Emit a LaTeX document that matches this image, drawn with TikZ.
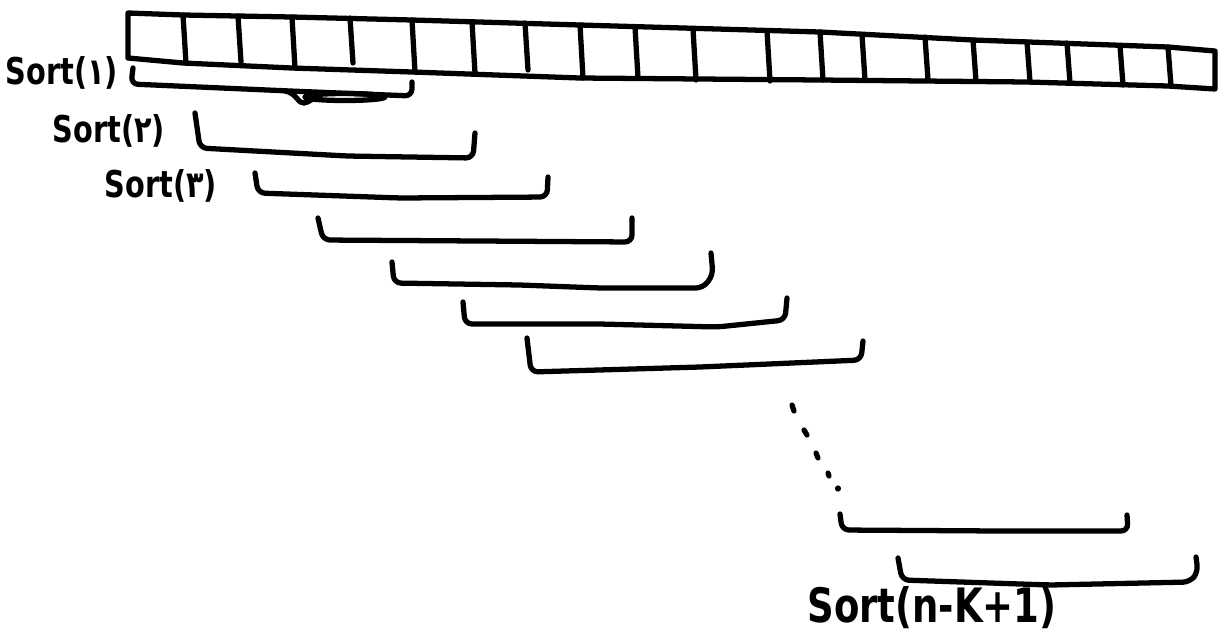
\documentclass[tikz,border=0pt]{standalone}
\usepackage{fontspec}
\usepackage{tikz}
\usetikzlibrary{positioning}
\newfontfamily\handfont[FakeStretch=0.78]{DejaVu Sans Bold}

\begin{document}
\begin{tikzpicture}[x=0.02cm,y=-0.02cm,
  ink/.style={line width=3pt,line cap=round,line join=round},
  brk/.style={ink,rounded corners=4pt},
  lbl/.style={font=\handfont\fontsize{21}{23}\selectfont,inner sep=0pt}]
  \useasboundingbox (0,0) rectangle (1220,637);
  % the array
  \draw[ink] (128,13) -- (183,15) -- (292,17) -- (412,20) -- (580,25) -- (820,32)
    -- (973,40) -- (1168,47) -- (1215,51) -- (1215,89) -- (1168,86) -- (1027,82)
    -- (820,80) -- (580,78) -- (412,72) -- (292,68) -- (183,63) -- (150,60)
    -- (128,58) -- cycle;
  \foreach \x/\t/\b in {183/15/63, 238/16/62, 292/17/68, 350/18/63, 412/20/72,
      472/22/73, 525/23/70, 580/25/78, 635/27/78, 693/29/80, 767/31/81,
      820/32/80, 862/35/80, 925/37/80, 973/40/81, 1027/42/82, 1067/43/83,
      1120/46/85, 1168/47/86}
    \draw[ink] (\x,\t) -- (\x+3,\b);
  % windows
  \draw[brk] (133,68) -- (131,84) -- (290,91) -- (412,96) -- (412,82);
  \draw[ink] (345,97) ellipse (40 and 3.5);
  \draw[ink] (285,91) .. controls (297,93) and (298,104) .. (304,103)
    .. controls (310,102) and (312,98) .. (320,96);
  \draw[brk] (195,113) -- (200,148) -- (347,156) -- (473,158) -- (475,133);
  \draw[brk] (255,173) -- (258,193) -- (400,198) -- (547,197) -- (548,177);
  \draw[brk] (318,218) -- (323,240) -- (480,241) -- (632,242) -- (632,218);
  \draw[brk] (392,262) -- (394,283) -- (520,285) -- (600,288) -- (703,288)
    -- (713,275) -- (711,253);
  \draw[brk] (463,302) -- (465,324) -- (600,324) -- (717,327) -- (785,320)
    -- (787,298);
  \draw[brk] (527,338) -- (531,372) -- (700,367) -- (861,360) -- (863,341);
  \foreach \a/\b/\c/\d in {792/405/794/411, 804/430/807/435, 816/453/818/458,
      828/473/829/476, 838/488/838/489}
    \draw[ink] (\a,\b) -- (\c,\d);
  \draw[brk] (840,514) -- (842,530) -- (1000,531) -- (1128,531) -- (1127,515);
  \draw[brk] (898,558) -- (902,580) -- (1050,585) -- (1190,582) -- (1198,572)
    -- (1196,557);
  % labels
  \node[lbl] (sorta) at (62,73) {Sort(۱)};
  \node[lbl] (sortb) at (109,131) {Sort(۲)};
  \node[lbl] (sortc) at (161,186) {Sort(۳)};
  \node[lbl,font=\handfont\fontsize{27}{29}\selectfont] (sortlast) at (932,608) {Sort(n-K+1)};
\end{tikzpicture}
\end{document}
